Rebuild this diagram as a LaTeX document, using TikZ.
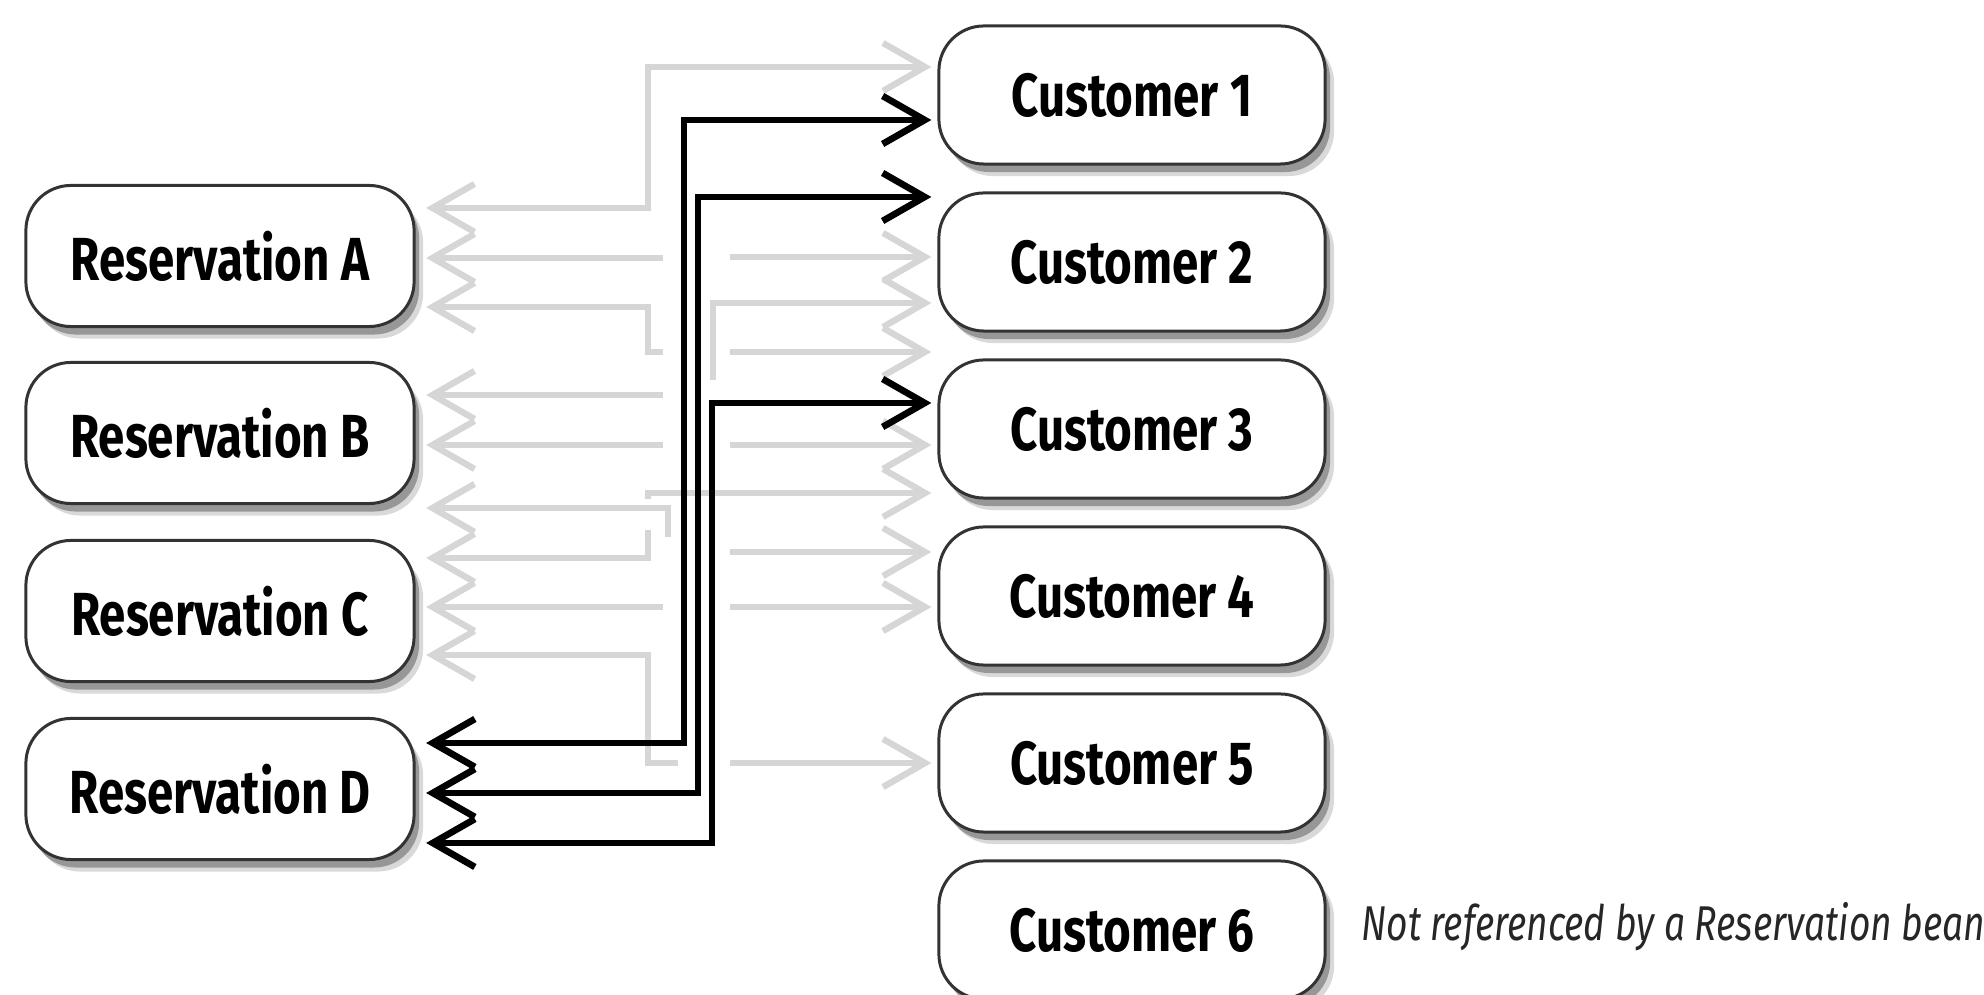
\documentclass[tikz,border=0pt]{standalone}
\usepackage{fontspec}
\usepackage{xcolor}
\usepackage{tikz}
\usetikzlibrary{arrows.meta, shadows, calc}

\newfontfamily\boxfont{Fira Sans}[FakeStretch=0.78]
\newfontfamily\notefont{Fira Sans}[FakeStretch=0.76]
\definecolor{linegray}{RGB}{214,214,214}
\definecolor{edgegray}{RGB}{51,51,51}

\begin{document}
\begin{tikzpicture}[
            x=0.01cm, y=-0.01cm,
            >={Straight Barb[length=4.2mm, width=4.8mm]},
            every node/.style={align=center},
            beanbox/.style={draw=edgegray, line width=0.85pt, fill=white, rounded corners=4.5mm,
                font=\boxfont\bfseries\fontsize{17.3}{20}\selectfont,
                drop shadow={shadow xshift=0.9mm, shadow yshift=-1.2mm, opacity=0.15, fill=black},
                drop shadow={shadow xshift=0.5mm, shadow yshift=-0.8mm, opacity=0.3, fill=black}},
            resbox/.style={beanbox, minimum width=3.88cm, minimum height=1.41cm, outer xsep=1.2mm},
            custbox/.style={beanbox, minimum width=3.86cm, minimum height=1.38cm, outer xsep=0.75mm},
            gline/.style={draw=linegray, line width=1.8pt},
            bline/.style={draw=black, line width=1.9pt}
        ]
        
        % Page frame, same proportions as the original figure
        \useasboundingbox (0,0) rectangle (1984,995);
        
        % Vertical guides where the connectors turn or are interrupted
        \coordinate (busA) at (648, 0);    % gray bends
        \coordinate (busB) at (668, 0);
        \coordinate (busC) at (713, 0);
        \coordinate (gapL) at (663, 0);    % gray line stops here ...
        \coordinate (gapM) at (678, 0);
        \coordinate (gapR) at (730, 0);    % ... and restarts here
        \coordinate (trunkA) at (684, 0);  % black risers of Reservation D
        \coordinate (trunkB) at (698, 0);
        \coordinate (trunkC) at (712, 0);
        
        % --- Column: Reservation beans ---
        \node[resbox] (resA) at (220, 256) {Reservation A};
        \node[resbox] (resB) at (220, 433) {Reservation B};
        \node[resbox] (resC) at (220, 611) {Reservation C};
        \node[resbox] (resD) at (220, 789) {Reservation D};
        
        % --- Column: Customer beans ---
        \node[custbox] (cust1) at (1132, 95) {Customer 1};
        \node[custbox] (cust2) at (1132, 262) {Customer 2};
        \node[custbox] (cust3) at (1132, 429) {Customer 3};
        \node[custbox] (cust4) at (1132, 596) {Customer 4};
        \node[custbox] (cust5) at (1132, 763) {Customer 5};
        \node[custbox] (cust6) at (1132, 930) {Customer 6};
        
        \node[anchor=west, text=black!85, font=\notefont\itshape\fontsize{13.9}{16}\selectfont] (note6) at (1349, 927) {Not referenced by a Reservation bean};
        
        % --- Gray references: Reservation A ---
        \draw[gline, <->] (resA.east |- 0,208) -| (busA |- 0,67) -- (cust1.west |- 0,67);
        \draw[gline, <-] (resA.east |- 0,258) -- (gapL |- 0,258);
        \draw[gline, ->] (gapR |- 0,257) -- (cust2.west |- 0,257);
        \draw[gline, <-] (resA.east |- 0,307) -| (busA |- 0,352) -- (gapL |- 0,352);
        \draw[gline, ->] (gapR |- 0,352) -- (cust3.west |- 0,352);
        
        % --- Gray references: Reservation B ---
        \draw[gline, <-] (resB.east |- 0,395) -- (gapL |- 0,395);
        \draw[gline, ->] (busC |- 0,380) |- (cust2.west |- 0,303);
        \draw[gline, <-] (resB.east |- 0,445) -- (gapL |- 0,445);
        \draw[gline, ->] (gapR |- 0,445) -- (cust3.west |- 0,445);
        
        % --- Gray references: Reservation C ---
        \draw[gline, <-] (resC.east |- 0,508) -| (busB |- 0,537);
        \draw[gline, ->] (gapR |- 0,552) -- (cust4.west |- 0,552);
        \draw[gline, <-] (resC.east |- 0,558) -| (busA |- 0,530);
        \draw[gline, ->] (busA |- 0,499) |- (cust3.west |- 0,493);
        \draw[gline, <-] (resC.east |- 0,607) -- (gapL |- 0,607);
        \draw[gline, ->] (gapR |- 0,607) -- (cust4.west |- 0,607);
        \draw[gline, <-] (resC.east |- 0,655) -| (busA |- 0,763) -- (gapM |- 0,763);
        \draw[gline, ->] (gapR |- 0,763) -- (cust5.west |- 0,763);
        
        % --- Black references: Reservation D ---
        \draw[bline, <->] (resD.east |- 0,743) -| (trunkA |- 0,120) -- (cust1.west |- 0,120);
        \draw[bline, <->] (resD.east |- 0,793) -| (trunkB |- 0,197) -- (cust2.west |- 0,197);
        \draw[bline, <->] (resD.east |- 0,843) -| (trunkC |- 0,403) -- (cust3.west |- 0,403);
        
        \end{tikzpicture}
\end{document}
